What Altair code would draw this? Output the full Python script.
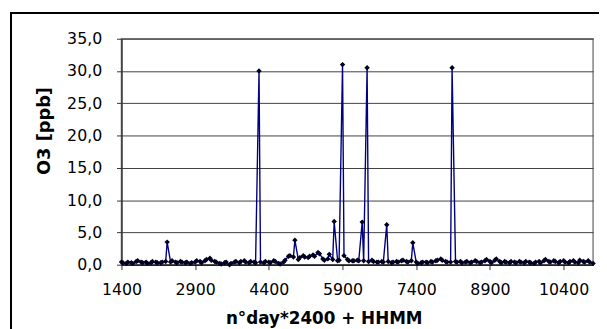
import altair as alt
import pandas as pd

# time axis: n°day*2400 + HHMM, half-hourly samples (HH00, HH30)
x_vals = [h * 100 + m for h in range(14, 110) for m in (0, 30)] + [11000]
o3_vals = [
    0.4, 0.3, 0.2, 0.4, 0.3, 0.2, 0.5, 0.6, 0.4, 0.3,      # 1400-1830
    0.4, 0.2, 0.3, 0.5, 0.4, 0.3, 0.3, 0.4, 0.5, 3.5,      # 1900-2330
    0.4, 0.6, 0.4, 0.3, 0.5, 0.4, 0.3, 0.4, 0.2, 0.3,      # 2400-2830
    0.4, 0.6, 0.5, 0.3, 0.6, 0.8, 1.0, 0.7, 0.5, 0.4,      # 2900-3330
    0.2, 0.1, 0.3, 0.4, 0.0, 0.2, 0.4, 0.5, 0.3, 0.5,      # 3400-3830
    0.6, 0.4, 0.3, 0.5, 0.4, 0.3, 30.0, 0.4, 0.3, 0.5,     # 3900-4330
    0.4, 0.3, 0.6, 0.5, 0.2, 0.1, 0.4, 0.7, 1.3, 1.4,      # 4400-4830
    1.2, 3.8, 0.8, 1.1, 1.4, 1.2, 1.1, 1.3, 1.5, 1.3,      # 4900-5330
    1.9, 1.7, 0.9, 0.7, 0.9, 1.6, 0.8, 6.7, 0.6, 0.7,      # 5400-5830
    31.0, 1.4, 0.8, 0.6, 0.6, 0.6, 0.7, 0.6, 6.6, 0.6,     # 5900-6330
    30.5, 0.5, 0.7, 0.5, 0.4, 0.4, 0.5, 0.4, 6.2, 0.5,     # 6400-6830
    0.3, 0.4, 0.5, 0.4, 0.6, 0.7, 0.5, 0.4, 0.6, 3.4,      # 6900-7330
    0.4, 0.2, 0.3, 0.4, 0.4, 0.3, 0.5, 0.4, 0.6, 0.7,      # 7400-7830
    0.9, 0.7, 0.5, 0.4, 0.4, 30.5, 0.5, 0.4, 0.5, 0.3,     # 7900-8330
    0.4, 0.5, 0.3, 0.4, 0.6, 0.5, 0.3, 0.4, 0.6, 0.8,      # 8400-8830
    0.5, 0.3, 0.7, 0.9, 0.5, 0.3, 0.5, 0.4, 0.3, 0.5,      # 8900-9330
    0.4, 0.3, 0.5, 0.4, 0.3, 0.5, 0.4, 0.3, 0.2, 0.4,      # 9400-9830
    0.5, 0.3, 0.6, 0.8, 0.5, 0.4, 0.6, 0.5, 0.3, 0.5,      # 9900-10330
    0.6, 0.4, 0.3, 0.5, 0.6, 0.4, 0.3, 0.7, 0.5, 0.4,      # 10400-10830
    0.6, 0.4, 0.2,                                         # 10900-11000
]
x_ticks = [1400, 2900, 4400, 5900, 7400, 8900, 10400]
y_ticks = [0, 5, 10, 15, 20, 25, 30, 35]

df = pd.DataFrame({"t": x_vals, "o3": o3_vals})

W, H = 478, 229
FONT = "DejaVu Sans"

xenc = alt.X(
    "t:Q",
    scale=alt.Scale(domain=[1400, 11000], nice=False, zero=False),
    axis=alt.Axis(
        values=x_ticks, format="d", grid=False, title="n°day*2400 + HHMM",
        titleFont=FONT, titleFontSize=17, titleFontWeight="bold", titleColor="black",
        titleX=205, titleY=60, titleAlign="center", titleBaseline="alphabetic",
        labelFont=FONT, labelFontSize=16, labelColor="black", labelPadding=12,
        domainColor="black", domainWidth=1, tickColor="#333333", tickSize=5,
        labelFlush=False, labelOverlap=False,
    ),
)
yenc = alt.Y(
    "o3:Q",
    scale=alt.Scale(domain=[0, 35], nice=False),
    axis=alt.Axis(
        values=y_ticks, tickCount=8, grid=True, gridColor="#404040", gridWidth=1,
        labelExpr="replace(format(datum.value, '.1f'), '.', ',')",
        labelOverlap=False,
        title="O3  [ppb]", titleFont=FONT, titleFontSize=18, titleFontWeight="bold",
        titleColor="black", titleX=-78, titleY=93, titleAlign="center",
        titleBaseline="middle", titleAngle=270,
        labelFont=FONT, labelFontSize=16, labelColor="black", labelPadding=15,
        domainColor="#333333", domainWidth=1.5, tickColor="#333333", tickSize=5,
    ),
)

line = alt.Chart(df).mark_line(color="#000080", strokeWidth=1.4).encode(x=xenc, y=yenc)
pts = alt.Chart(df).mark_point(
    shape="diamond", filled=True, color="#000022", size=30, opacity=1
).encode(x=xenc, y=yenc)

frame_v = alt.Chart(df).mark_rule(color="black", strokeWidth=1.5).encode(
    x=alt.value(-112), y=alt.value(-26), y2=alt.value(H + 100)
)
frame_h = alt.Chart(df).mark_rule(color="black", strokeWidth=1.5).encode(
    x=alt.value(-112), x2=alt.value(W + 100), y=alt.value(-26)
)

chart = alt.layer(line, pts, frame_v, frame_h).properties(
    width=W, height=H,
    padding={"left": 115, "top": 29, "right": 6, "bottom": 63},
    autosize=alt.AutoSizeParams(type="none"),
    background="white",
).configure_view(stroke="#808080", strokeWidth=1.5)

chart.save("out.html", embed_options={"renderer": "svg", "actions": False})
